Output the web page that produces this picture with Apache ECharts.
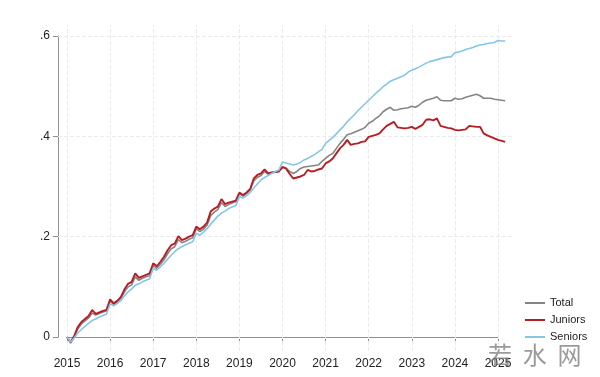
<!DOCTYPE html>
<html>
<head>
<meta charset="utf-8">
<script src="https://cdn.jsdelivr.net/npm/echarts@6/dist/echarts.min.js"></script>
<style>
html,body{margin:0;padding:0;background:#fff;}
#c{width:600px;height:377px;}
</style>
</head>
<body>
<div id="c"></div>
<script>
// ---- data (monthly, starting January 2015) ----
const startYear = 2015;
const yearTicks = [2015, 2016, 2017, 2018, 2019, 2020, 2021, 2022, 2023, 2024, 2025];
const yTicks = [0, 0.2, 0.4, 0.6];
const yTickLabels = ['0', '.2', '.4', '.6'];
const seriesNames = ['Total', 'Juniors', 'Seniors'];

const total = [
  0.000, -0.012, 0.000, 0.016, 0.026, 0.032, 0.038, 0.048, 0.044, 0.047, 0.050, 0.052,
  0.072, 0.065, 0.070, 0.077, 0.090, 0.100, 0.104, 0.120, 0.113, 0.117, 0.120, 0.122,
  0.143, 0.137, 0.145, 0.154, 0.166, 0.176, 0.180, 0.194, 0.188, 0.191, 0.195, 0.198,
  0.216, 0.210, 0.215, 0.223, 0.242, 0.249, 0.254, 0.268, 0.260, 0.264, 0.267, 0.270,
  0.286, 0.281, 0.286, 0.293, 0.311, 0.318, 0.322, 0.330, 0.325, 0.328, 0.329, 0.331,
  0.338, 0.336, 0.330, 0.326, 0.330, 0.336, 0.339, 0.340, 0.341, 0.342, 0.343, 0.350,
  0.356, 0.362, 0.366, 0.376, 0.386, 0.394, 0.403, 0.405, 0.408, 0.411, 0.414, 0.418,
  0.426, 0.430, 0.436, 0.441, 0.449, 0.454, 0.458, 0.452, 0.453, 0.455, 0.456, 0.457,
  0.460, 0.458, 0.462, 0.468, 0.472, 0.474, 0.476, 0.479, 0.472, 0.471, 0.471, 0.471,
  0.476, 0.474, 0.475, 0.478, 0.480, 0.482, 0.484, 0.481, 0.476, 0.476, 0.476, 0.474,
  0.473, 0.472, 0.471
];
const juniors = [
  0.000, -0.010, 0.002, 0.020, 0.030, 0.036, 0.042, 0.054, 0.046, 0.049, 0.052, 0.054,
  0.075, 0.067, 0.072, 0.080, 0.095, 0.106, 0.110, 0.127, 0.118, 0.121, 0.124, 0.127,
  0.147, 0.141, 0.150, 0.160, 0.173, 0.183, 0.186, 0.201, 0.193, 0.196, 0.200, 0.203,
  0.220, 0.215, 0.220, 0.228, 0.250, 0.256, 0.260, 0.275, 0.265, 0.268, 0.270, 0.272,
  0.288, 0.283, 0.288, 0.295, 0.316, 0.323, 0.326, 0.334, 0.326, 0.328, 0.329, 0.330,
  0.339, 0.336, 0.325, 0.316, 0.318, 0.320, 0.323, 0.333, 0.330, 0.331, 0.334, 0.336,
  0.346, 0.350, 0.356, 0.366, 0.376, 0.383, 0.393, 0.383, 0.385, 0.386, 0.389, 0.390,
  0.399, 0.401, 0.403, 0.406, 0.414, 0.421, 0.425, 0.429, 0.418, 0.417, 0.416, 0.417,
  0.419, 0.415, 0.419, 0.423, 0.433, 0.434, 0.432, 0.436, 0.421, 0.419, 0.417, 0.416,
  0.413, 0.412, 0.413, 0.414, 0.421, 0.420, 0.419, 0.419, 0.406, 0.402, 0.399, 0.396,
  0.393, 0.391, 0.389
];
const seniors = [
  0.000, -0.010, -0.002, 0.008, 0.015, 0.021, 0.027, 0.033, 0.036, 0.040, 0.043, 0.046,
  0.066, 0.062, 0.067, 0.073, 0.082, 0.090, 0.096, 0.103, 0.106, 0.110, 0.113, 0.116,
  0.137, 0.133, 0.140, 0.147, 0.155, 0.163, 0.170, 0.176, 0.180, 0.184, 0.187, 0.190,
  0.207, 0.203, 0.209, 0.216, 0.225, 0.233, 0.241, 0.247, 0.251, 0.256, 0.259, 0.262,
  0.280, 0.277, 0.282, 0.288, 0.297, 0.305, 0.313, 0.318, 0.322, 0.326, 0.330, 0.333,
  0.349, 0.347, 0.345, 0.343, 0.345, 0.348, 0.353, 0.356, 0.360, 0.364, 0.369, 0.374,
  0.386, 0.392, 0.398, 0.405, 0.413, 0.420, 0.429, 0.436, 0.443, 0.451, 0.458, 0.465,
  0.472, 0.479, 0.486, 0.492, 0.499, 0.504, 0.510, 0.513, 0.516, 0.519, 0.522, 0.528,
  0.532, 0.535, 0.538, 0.542, 0.546, 0.549, 0.551, 0.553, 0.555, 0.557, 0.558, 0.559,
  0.567, 0.568, 0.570, 0.573, 0.575, 0.577, 0.580, 0.582, 0.583, 0.585, 0.586, 0.587,
  0.591, 0.590, 0.590
];

// month index -> decimal year
const toPairs = arr => arr.map((v, i) => [startYear + i / 12, v]);

const FONT = '"Liberation Sans", Arial, Helvetica, sans-serif';
const AXIS_COLOR = '#8e8e8e';
const GRID_COLOR = '#ebebeb';

const chart = echarts.init(document.getElementById('c'), null, { renderer: 'canvas' });

const option = {
  animation: false,
  backgroundColor: '#ffffff',
  textStyle: { fontFamily: FONT },
  grid: [
    { left: 58, right: 87, top: 25, bottom: 26, containLabel: false, outerBoundsMode: 'none' },
    { left: 67, right: 102, top: 36, bottom: 40, containLabel: false, outerBoundsMode: 'none' }
  ],
  xAxis: [
    { gridIndex: 0, type: 'value', min: 2014.791, max: 2025.348, show: false },
    {
      gridIndex: 1, type: 'value', min: 2015, max: 2025, interval: 1, offset: 14,
      axisLine: { show: true, lineStyle: { color: AXIS_COLOR, width: 1 } },
      axisTick: { show: true, length: 5, lineStyle: { color: AXIS_COLOR, width: 1 } },
      axisLabel: { color: '#222', fontSize: 12, fontFamily: FONT, margin: 7, formatter: v => String(v) },
      splitLine: { show: false }
    }
  ],
  yAxis: [
    { gridIndex: 0, type: 'value', min: -0.0279, max: 0.622, show: false },
    {
      gridIndex: 1, type: 'value', min: 0, max: 0.6, interval: 0.2, offset: 9,
      axisLine: { show: true, lineStyle: { color: AXIS_COLOR, width: 1 } },
      axisTick: { show: true, length: 5, lineStyle: { color: AXIS_COLOR, width: 1 } },
      axisLabel: {
        color: '#222', fontSize: 12, fontFamily: FONT, margin: 8,
        formatter: v => {
          const k = yTicks.findIndex(t => Math.abs(t - v) < 1e-6);
          return k >= 0 ? yTickLabels[k] : '';
        }
      },
      splitLine: { show: false }
    }
  ],
  legend: {
    data: seriesNames,
    orient: 'vertical',
    left: 525, top: 297,
    padding: 0,
    itemGap: 5,
    itemWidth: 20, itemHeight: 2,
    icon: 'rect',
    textStyle: { fontSize: 11, color: '#222', fontFamily: FONT, lineHeight: 12 }
  },
  series: [
    {
      name: 'gridlines', type: 'line', xAxisIndex: 0, yAxisIndex: 0, data: [], z: 1,
      silent: true,
      markLine: {
        silent: true, symbol: 'none', animation: false, z: 1,
        label: { show: false },
        lineStyle: { color: GRID_COLOR, type: [4, 2], width: 1 },
        emphasis: { disabled: true },
        data: yearTicks.map(y => ({ xAxis: y })).concat(yTicks.filter(t => t > 0).map(t => ({ yAxis: t })))
      }
    },
    {
      name: 'Total', type: 'line', xAxisIndex: 0, yAxisIndex: 0, z: 3,
      data: toPairs(total), showSymbol: false, symbol: 'none',
      lineStyle: { color: '#858585', width: 1.6 }, itemStyle: { color: '#858585' }
    },
    {
      name: 'Juniors', type: 'line', xAxisIndex: 0, yAxisIndex: 0, z: 4,
      data: toPairs(juniors), showSymbol: false, symbol: 'none',
      lineStyle: { color: '#b81d24', width: 1.9 }, itemStyle: { color: '#b81d24' }
    },
    {
      name: 'Seniors', type: 'line', xAxisIndex: 0, yAxisIndex: 0, z: 5,
      data: toPairs(seniors), showSymbol: false, symbol: 'none',
      lineStyle: { color: '#86c5e6', width: 1.6 }, itemStyle: { color: '#86c5e6' }
    }
  ],
  graphic: [
    {
      type: 'text', left: 488, top: 343, z: 100, silent: true,
      style: { text: '若  水  网', fontSize: 24, fill: 'rgba(120,120,120,0.75)', fontFamily: '"Noto Sans CJK SC", sans-serif' }
    }
  ]
};
chart.setOption(option);
</script>
</body>
</html>
